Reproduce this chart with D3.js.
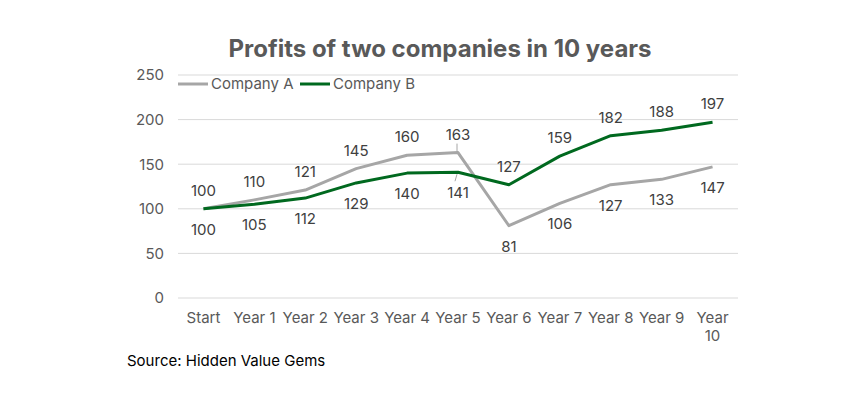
<!DOCTYPE html>
<html>
<head>
<meta charset="utf-8">
<script src="https://cdn.jsdelivr.net/npm/d3@7"></script>
<style>
  body { margin: 0; background: #fff; }
  text { font-family: Inter, "Noto Sans", sans-serif; }
</style>
</head>
<body>
<div id="chart"></div>
<script>
var categories = ["Start", "Year 1", "Year 2", "Year 3", "Year 4", "Year 5", "Year 6", "Year 7", "Year 8", "Year 9", "Year 10"];
var companyA = [100, 110, 121, 145, 160, 163, 81, 106, 127, 133, 147];
var companyB = [100, 105, 112, 129, 140, 141, 127, 159, 182, 188, 197];
var seriesNames = ["Company A", "Company B"];
var yTicks = [0, 50, 100, 150, 200, 250];

var width = 846, height = 393;
var margin = {top: 75, right: 108, bottom: 95, left: 178};
var plotW = width - margin.left - margin.right,
    plotH = height - margin.top - margin.bottom;

var colors = ["#a6a6a6", "#00691f"];

var svg = d3.select("#chart").append("svg")
  .attr("width", width)
  .attr("height", height);

svg.append("text")
  .attr("x", 440)
  .attr("y", 57)
  .attr("text-anchor", "middle")
  .attr("font-size", 24)
  .attr("font-weight", 700)
  .attr("fill", "#595959")
  .text("Profits of two companies in 10 years");

var g = svg.append("g")
  .attr("transform", "translate(" + margin.left + "," + margin.top + ")");

var x = d3.scaleBand().domain(categories).range([0, plotW]);
var y = d3.scaleLinear().domain([0, 250]).range([plotH, 0]);

// gridlines
g.append("g")
  .selectAll("line")
  .data(yTicks)
  .join("line")
  .attr("x1", 0).attr("x2", plotW)
  .attr("y1", d => y(d)).attr("y2", d => y(d))
  .attr("stroke", "#d9d9d9")
  .attr("stroke-width", 1);

// y axis
var yAxis = d3.axisLeft(y).tickValues(yTicks).tickSize(0).tickPadding(14);
g.append("g").call(yAxis)
  .call(s => s.select(".domain").remove())
  .selectAll("text")
  .attr("font-size", 15)
  .attr("fill", "#595959");

// x axis
var xAxis = d3.axisBottom(x).tickSize(0).tickPadding(14);
var xg = g.append("g")
  .attr("transform", "translate(0," + plotH + ")")
  .call(xAxis)
  .call(s => s.select(".domain").remove());
xg.selectAll("text")
  .attr("font-size", 15)
  .attr("fill", "#595959")
  .each(function(d) {
    if (d === "Year 10") {
      var t = d3.select(this);
      var dy = t.attr("dy");
      t.text(null);
      t.append("tspan").attr("x", 0).attr("dy", dy).text("Year");
      t.append("tspan").attr("x", 0).attr("dy", "1.2em").text("10");
    }
  });

var cx = d => x(d) + x.bandwidth() / 2;
var line = d3.line()
  .x((d, i) => cx(categories[i]))
  .y(d => y(d));

var data = [companyA, companyB];
data.forEach(function(vals, k) {
  g.append("path")
    .datum(vals)
    .attr("fill", "none")
    .attr("stroke", colors[k])
    .attr("stroke-width", 3)
    .attr("stroke-linejoin", "round")
    .attr("d", line);
});

// data labels: higher value above, lower below
data.forEach(function(vals, k) {
  var other = data[1 - k];
  g.append("g")
    .selectAll("text")
    .data(vals)
    .join("text")
    .attr("x", (d, i) => cx(categories[i]))
    .attr("y", function(d, i) {
      var above = d > other[i] || (d === other[i] && k === 0);
      return above ? y(d) - 13 : y(d) + 26;
    })
    .attr("text-anchor", "middle")
    .attr("font-size", 15)
    .attr("fill", "#404040")
    .text(d => d);
});

// small leader lines at Year 5
var i5 = categories.indexOf("Year 5");
g.append("line")
  .attr("x1", cx("Year 5") - 1).attr("x2", cx("Year 5") - 1)
  .attr("y1", y(companyA[i5]) - 9).attr("y2", y(companyA[i5]) - 1)
  .attr("stroke", "#a6a6a6").attr("stroke-width", 1);
g.append("line")
  .attr("x1", cx("Year 5") - 1).attr("x2", cx("Year 5") - 3)
  .attr("y1", y(companyB[i5]) + 2).attr("y2", y(companyB[i5]) + 9)
  .attr("stroke", "#a6a6a6").attr("stroke-width", 1);

// legend
var legendX = [0, 122];
seriesNames.forEach(function(name, k) {
  var lg = g.append("g").attr("transform", "translate(" + legendX[k] + "," + (y(250) + 9) + ")");
  lg.append("line")
    .attr("x1", 0).attr("x2", 30)
    .attr("stroke", colors[k]).attr("stroke-width", 3);
  lg.append("text")
    .attr("x", 33).attr("y", 5)
    .attr("font-size", 15)
    .attr("fill", "#595959")
    .text(name);
});

svg.append("text")
  .attr("x", 127)
  .attr("y", 366)
  .attr("font-size", 15)
  .attr("fill", "#000")
  .text("Source: Hidden Value Gems");
</script>
</body>
</html>
